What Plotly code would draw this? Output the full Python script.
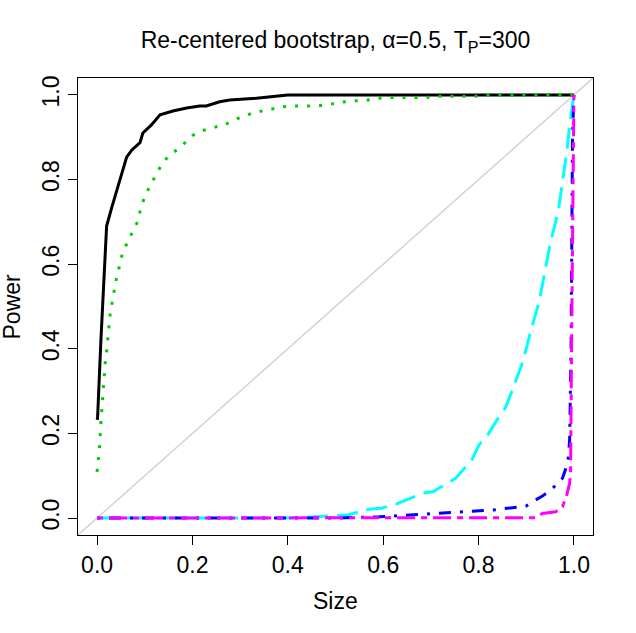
import plotly.graph_objects as go

# --- data ---
black_x = [0.0, 0.001, 0.008, 0.015, 0.020, 0.031, 0.041, 0.052, 0.062, 0.073, 0.090, 0.096,
           0.114, 0.132, 0.159, 0.188, 0.215, 0.229, 0.257, 0.278, 0.334, 0.400, 1.0]
black_y = [0.232, 0.236, 0.42, 0.60, 0.690, 0.735, 0.775, 0.816, 0.853, 0.870, 0.887, 0.910,
           0.929, 0.953, 0.962, 0.969, 0.974, 0.974, 0.984, 0.988, 0.992, 1.0, 1.0]

green_x = [0.0, 0.003, 0.005, 0.008, 0.011, 0.015, 0.017, 0.020, 0.022, 0.024, 0.027, 0.031,
           0.035, 0.040, 0.046, 0.052, 0.062, 0.074, 0.086, 0.091, 0.100, 0.112, 0.126, 0.139,
           0.158, 0.178, 0.200, 0.222, 0.248, 0.270, 0.294, 0.318, 0.341, 0.365, 0.390, 0.414,
           0.463, 0.489, 0.514, 0.540, 0.564, 0.590, 0.614, 0.690, 0.714, 0.791, 0.815, 1.0]
green_y = [0.109, 0.137, 0.165, 0.225, 0.279, 0.336, 0.366, 0.393, 0.421, 0.450, 0.478, 0.506,
           0.534, 0.563, 0.591, 0.620, 0.648, 0.677, 0.703, 0.730, 0.760, 0.787, 0.816, 0.843,
           0.862, 0.880, 0.904, 0.916, 0.924, 0.931, 0.944, 0.954, 0.961, 0.966, 0.972, 0.974,
           0.974, 0.978, 0.983, 0.986, 0.987, 0.992, 0.994, 0.994, 0.997, 0.997, 0.999, 1.0]

cyan_x = [0.0, 0.39, 0.44, 0.476, 0.527, 0.57, 0.595, 0.627, 0.648, 0.662, 0.683, 0.704,
          0.721, 0.738, 0.752, 0.770, 0.784, 0.801, 0.819, 0.843, 0.856, 0.870, 0.878, 0.893,
          0.909, 0.927, 0.939, 0.951, 0.967, 0.976, 0.985, 0.992, 0.997, 1.0]
cyan_y = [0.0, 0.0, 0.002, 0.004, 0.008, 0.021, 0.023, 0.033, 0.043, 0.050, 0.059, 0.062,
          0.074, 0.086, 0.094, 0.117, 0.133, 0.173, 0.196, 0.240, 0.260, 0.300, 0.326, 0.370,
          0.440, 0.511, 0.582, 0.653, 0.724, 0.795, 0.866, 0.937, 0.984, 1.0]

blue_x = [0.0, 0.50, 0.592, 0.620, 0.655, 0.724, 0.787, 0.829, 0.860, 0.899, 0.920, 0.934,
          0.955, 0.976, 0.983, 0.988, 0.991, 0.994, 0.997, 1.0]
blue_y = [0.0, 0.0, 0.003, 0.005, 0.007, 0.011, 0.017, 0.019, 0.023, 0.028, 0.043, 0.052,
          0.070, 0.094, 0.117, 0.141, 0.184, 0.40, 0.90, 1.0]

magenta_x = [0.0, 0.920, 0.934, 0.962, 0.976, 0.984, 0.991, 0.993, 0.995, 0.998, 1.0]
magenta_y = [0.0, 0.001, 0.011, 0.015, 0.027, 0.050, 0.082, 0.113, 0.40, 0.90, 1.0]

tick_vals = [0.0, 0.2, 0.4, 0.6, 0.8, 1.0]
tick_text = ["0.0", "0.2", "0.4", "0.6", "0.8", "1.0"]

FONT = "Liberation Sans, Arial, sans-serif"

fig = go.Figure()

series = [
    (black_x, black_y, "black", "solid"),
    (green_x, green_y, "#00CD00", "3px,9px"),
    (cyan_x, cyan_y, "#00FFFF", "21px,9px"),
    (blue_x, blue_y, "#0000FF", "3px,9px,12px,9px"),
    (magenta_x, magenta_y, "#FF00FF", "6px,6px,18px,6px"),
]
for xs, ys, col, dash in series:
    fig.add_trace(go.Scatter(x=xs, y=ys, mode="lines",
                             line=dict(color=col, width=3, dash=dash),
                             showlegend=False, hoverinfo="skip"))

# 45-degree reference line (abline(0,1))
fig.add_shape(type="line", xref="x", yref="y", x0=-0.04, y0=-0.04, x1=1.04, y1=1.04,
              line=dict(color="#D3D3D3", width=1.5), layer="below")

axis_common = dict(
    range=[-0.04, 1.04], showgrid=False, zeroline=False,
    showline=True, linecolor="black", linewidth=1, mirror=True,
    ticks="outside", ticklen=9, tickwidth=1, tickcolor="black",
    tickvals=tick_vals, ticktext=tick_text,
    tickfont=dict(family=FONT, size=23, color="black"),
)

fig.update_layout(
    width=636, height=633,
    margin=dict(l=78, r=43, t=78, b=98, autoexpand=False),
    paper_bgcolor="white", plot_bgcolor="white",
    xaxis=dict(**axis_common),
    yaxis=dict(**axis_common, tickangle=-90),
    title=dict(text="Re-centered bootstrap, \u03b1=0.5, T<sub>P</sub>=300",
               font=dict(family=FONT, size=23, color="black"),
               x=(78 + 593) / 2 / 636, xanchor="center",
               y=1 - 40 / 633, yanchor="middle", yref="container"),
    annotations=[
        dict(text="Size", xref="paper", yref="paper", x=0.5, y=(535 - 601) / 457,
             xanchor="center", yanchor="middle", showarrow=False,
             font=dict(family=FONT, size=23, color="black")),
        dict(text="Power", xref="paper", yref="paper", x=(11 - 78) / 515, y=0.5,
             xanchor="center", yanchor="middle", showarrow=False, textangle=-90,
             font=dict(family=FONT, size=23, color="black")),
    ],
)

fig.write_html("out.html", config={"displayModeBar": False},
               post_script="document.body.style.margin='0';document.body.style.padding='0';")
